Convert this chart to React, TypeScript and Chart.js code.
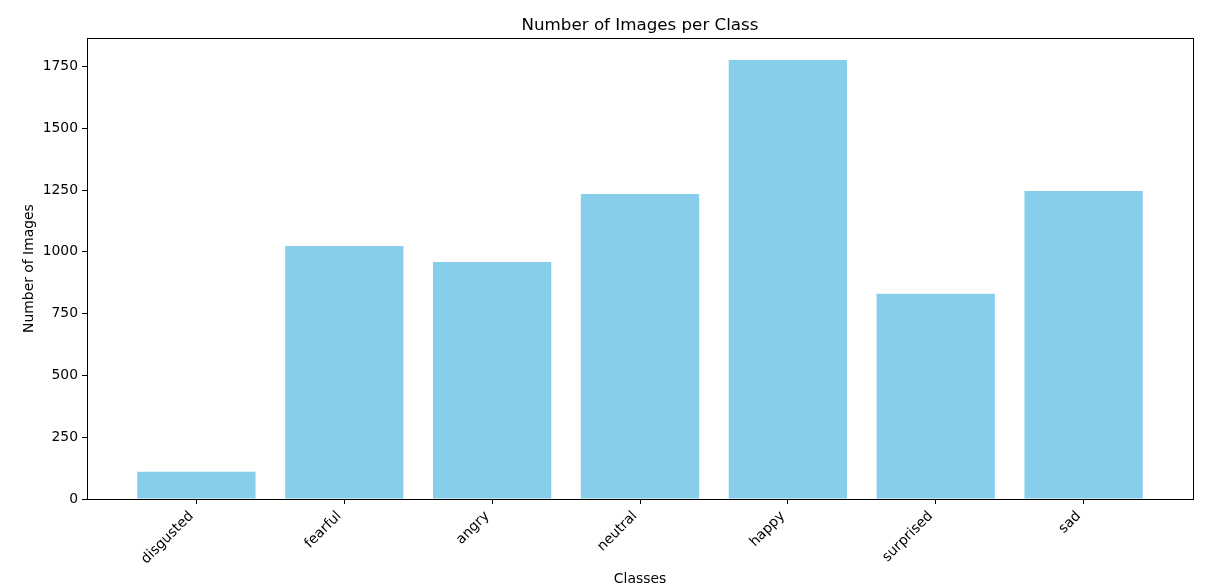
import React, { useEffect, useRef } from "react";
import { Chart, registerables } from "chart.js";

Chart.register(...registerables);

const categories = ["disgusted", "fearful", "angry", "neutral", "happy", "surprised", "sad"];
const counts = [110, 1024, 959, 1234, 1776, 830, 1246];
const yTicks = [0, 250, 500, 750, 1000, 1250, 1500, 1750];
const chartTitle = "Number of Images per Class";
const xTitle = "Classes";
const yTitle = "Number of Images";

const FONT = "'DejaVu Sans', sans-serif";

const frame = {
  id: "frame",
  afterDraw(chart: any) {
    const { ctx, chartArea } = chart;
    ctx.save();
    ctx.strokeStyle = "#000";
    ctx.lineWidth = 1;
    ctx.strokeRect(
      Math.round(chartArea.left) + 0.5,
      Math.round(chartArea.top) + 0.5,
      Math.round(chartArea.right) - Math.round(chartArea.left),
      Math.round(chartArea.bottom) - Math.round(chartArea.top)
    );
    ctx.restore();
  },
};

export default function App() {
  const ref = useRef<HTMLCanvasElement | null>(null);
  useEffect(() => {
    document.body.style.margin = "0";
    const canvas = ref.current;
    if (!canvas) return;
    const n = categories.length;
    const maxV = Math.max(...counts) * 1.05;
    const chart = new Chart(canvas, {
      type: "bar",
      data: {
        datasets: [
          {
            data: counts.map((v, i) => ({ x: i, y: v })),
            backgroundColor: "#87CEEB",
            borderWidth: 0,
            barPercentage: 0.8,
            categoryPercentage: 1,
          },
        ],
      },
      plugins: [frame],
      options: {
        animation: false,
        responsive: false,
        maintainAspectRatio: false,
        devicePixelRatio: 1,
        layout: { padding: { left: 0, right: 22, top: 0, bottom: 0 } },
        plugins: {
          legend: { display: false },
          tooltip: { enabled: false },
          title: {
            display: true,
            text: chartTitle,
            color: "#000",
            fullSize: false,
            font: { family: FONT, size: 16.7, weight: "normal" },
            padding: { top: 16, bottom: 2 },
          },
        },
        scales: {
          x: {
            type: "linear",
            min: -0.74,
            max: n - 1 + 0.74,
            offset: false,
            afterFit: (s: any) => {
              s.height = 88;
            },
            afterBuildTicks: (s: any) => {
              s.ticks = categories.map((_, i) => ({ value: i }));
            },
            grid: {
              display: true,
              drawOnChartArea: false,
              drawTicks: true,
              tickLength: 5,
              color: "#000",
              offset: false,
            },
            border: { display: true, color: "#000" },
            ticks: {
              color: "#000",
              font: { family: FONT, size: 13.9 },
              minRotation: 45,
              maxRotation: 45,
              autoSkip: false,
              padding: 4,
              labelOffset: -5,
              callback: (v: any) => categories[v] ?? "",
            },
            title: {
              display: true,
              text: xTitle,
              color: "#000",
              font: { family: FONT, size: 13.9 },
              padding: { top: 0, bottom: -1 },
            },
          },
          y: {
            type: "linear",
            min: 0,
            max: maxV,
            afterFit: (s: any) => {
              s.width = 87;
            },
            afterBuildTicks: (s: any) => {
              s.ticks = yTicks.map((v) => ({ value: v }));
            },
            grid: {
              display: true,
              drawOnChartArea: false,
              drawTicks: true,
              tickLength: 5,
              color: "#000",
            },
            border: { display: true, color: "#000" },
            ticks: {
              color: "#000",
              font: { family: FONT, size: 13.9 },
              padding: 4,
              includeBounds: false,
              callback: (v: any) => String(v),
            },
            title: {
              display: true,
              text: yTitle,
              color: "#000",
              font: { family: FONT, size: 13.9 },
              padding: { top: 21, bottom: 0 },
            },
          },
        },
      },
    } as any);
    return () => chart.destroy();
  }, []);
  return (
    <div style={{ width: 1215, height: 587, background: "#fff" }}>
      <canvas ref={ref} width={1215} height={587} style={{ display: "block", width: 1215, height: 587 }} />
    </div>
  );
}
